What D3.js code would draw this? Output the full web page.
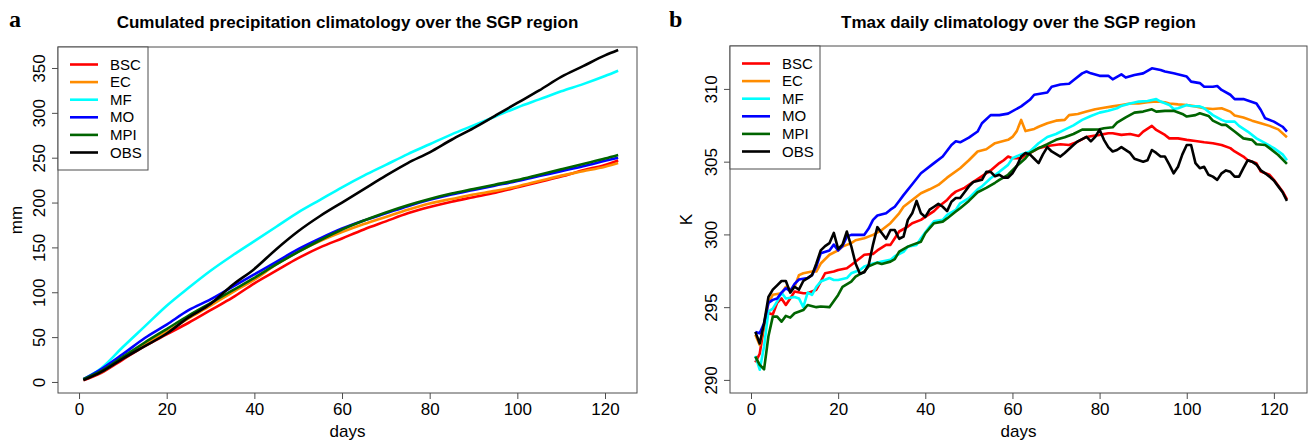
<!DOCTYPE html>
<html>
<head>
<meta charset="utf-8">
<script src="https://cdn.jsdelivr.net/npm/d3@7"></script>
<style>
  body { margin: 0; background: #fff; }
  svg { display: block; font-family: "Liberation Sans", Arial, sans-serif; }
</style>
</head>
<body>
<div class="svg-container"></div>
<script>
// series names and legend order
const seriesNames = ['BSC', 'EC', 'MF', 'MO', 'MPI', 'OBS'];
const seriesColors = ['#ff0000', '#ff8c00', '#00ffff', '#0000ff', '#006400', '#000000'];

// panel a: cumulated precipitation (mm), read every few days
const precipDays = [1, 5, 10, 15, 20, 25, 30, 35, 40, 45, 50, 55, 60, 65, 70, 75, 80, 85, 90, 95, 100, 105, 110, 115, 120, 123];
const precipBSC = [2, 10, 25, 40, 53, 66, 80, 94, 110, 124, 138, 150, 160, 170, 179, 188, 195, 201, 206, 211, 217, 223, 229, 236, 242, 247];
const precipEC  = [3, 11, 27, 42, 56, 71, 85, 100, 114, 131, 145, 157, 167, 176, 184, 192, 199, 204, 209, 213, 218, 224, 230, 235, 240, 244];
const precipMF  = [3, 15, 39, 62, 85, 105, 124, 141, 157, 173, 189, 203, 217, 230, 242, 254, 265, 276, 286, 296, 306, 315, 324, 332, 341, 347];
const precipMO  = [3, 14, 31, 49, 64, 80, 92, 106, 120, 134, 148, 160, 171, 180, 188, 196, 203, 209, 214, 219, 224, 229.5, 235, 240.5, 246.5, 250];
const precipMPI = [3, 12, 28, 44, 59, 74, 88, 102, 116, 131, 145, 158, 170, 180, 189, 197, 204, 210, 215, 220, 225, 231, 237, 243, 249, 253];
const precipOBS = [2, 11, 26, 40, 54, 72, 87, 108, 126, 148, 168, 185, 200, 215, 230, 244, 256, 270, 283, 297, 311, 325, 340, 352, 364, 370];

// panel b: Tmax daily climatology (K), [day, value]
const tmaxBSC = [[1,291.2],[2,291.8],[3,293.7],[4,294.6],[5,294.5],[6,295.3],[7,295.6],[8,295.15],[9,295.6],[10,296.07],[12,295.96],[13,295.96],[15,296.2],[16,296.76],[17,297.33],[19,297.45],[20,297.56],[22,297.67],[23,297.9],[25,298.36],[26,298.6],[28,298.66],[29,298.9],[31,299.28],[32,299.28],[33,299.74],[34,300.2],[36,300.54],[37,300.77],[39,301.0],[40,301.2],[42,301.6],[43,301.9],[45,302.37],[46,302.7],[47,302.94],[49,303.2],[50,303.4],[52,303.8],[55,304.4],[57,304.9],[58,305.1],[59,305.35],[60,305.24],[62,305.24],[63,305.46],[64,305.58],[66,305.93],[68,306.08],[71,306.2],[73,306.15],[75,306.38],[77,306.7],[80,306.84],[82,306.95],[83,306.95],[85,306.84],[87,306.9],[89,306.77],[90,307.07],[92,307.46],[93,307.18],[95,306.84],[96,306.6],[98,306.6],[100,306.5],[102,306.42],[104,306.33],[106,306.27],[108,306.15],[110,305.93],[111,305.7],[113,305.35],[114,305.1],[116,304.89],[117,304.32],[119,304.1],[120,303.75],[122,302.95],[123,302.4]];
const tmaxEC = [[1,293.1],[2,292.4],[3,293.7],[4,295.3],[5,295.85],[7,295.95],[8,296.4],[9,296.2],[10,296.4],[11,297.2],[12,297.33],[14,297.45],[15,297.45],[16,298.0],[18,298.6],[20,298.9],[21,299.16],[23,299.4],[24,299.6],[26,299.74],[28,299.97],[30,300.3],[32,300.77],[34,301.45],[35,301.9],[37,302.37],[39,302.83],[41,303.1],[43,303.4],[45,303.9],[48,304.55],[50,305.1],[52,305.7],[54,305.85],[56,306.27],[59,306.5],[60,306.7],[61,307.1],[62,307.87],[63,307.1],[65,307.25],[66,307.4],[68,307.64],[70,307.82],[72,307.87],[73,308.2],[75,308.28],[77,308.44],[79,308.6],[81,308.7],[83,308.8],[85,308.9],[87,309.0],[89,309.0],[91,309.08],[93,309.13],[95,309.08],[96,309.0],[98,308.94],[100,308.9],[102,308.8],[104,308.67],[106,308.62],[108,308.67],[110,308.44],[111,308.17],[113,308.03],[115,307.82],[117,307.64],[119,307.46],[121,307.22],[123,306.68]];
const tmaxMF = [[1,291.65],[2,290.7],[3,292.3],[4,294.7],[5,294.9],[6,295.4],[7,296.0],[8,295.6],[10,295.7],[11,295.6],[12,295.0],[13,296.0],[14,295.84],[15,296.4],[16,296.76],[18,297.0],[19,296.87],[20,296.87],[22,297.0],[23,297.33],[25,297.56],[26,297.8],[28,298.0],[30,298.13],[32,298.25],[33,298.5],[35,298.8],[36,299.16],[38,299.28],[39,299.74],[41,300.54],[42,300.9],[44,301.0],[45,301.34],[47,301.68],[48,302.14],[50,302.49],[52,303.1],[53,303.3],[55,303.86],[57,304.3],[59,304.78],[60,305.24],[62,305.5],[64,305.7],[66,306.27],[68,306.7],[70,306.9],[72,307.2],[74,307.5],[76,307.87],[78,308.14],[80,308.37],[82,308.5],[84,308.67],[85,308.83],[87,309.0],[89,309.13],[91,309.17],[93,309.3],[94,309.13],[96,308.9],[97,308.62],[98,308.67],[100,308.9],[101,308.83],[103,308.8],[104,308.67],[106,308.2],[108,307.87],[109,307.75],[111,307.75],[112,307.46],[114,307.07],[116,306.6],[118,306.27],[120,305.93],[122,305.5],[123,305.1]];
const tmaxMO = [[1,293.3],[2,293.2],[3,293.9],[4,295.3],[5,295.5],[6,295.6],[7,296.0],[8,296.3],[9,296.1],[10,296.6],[11,296.9],[13,297.0],[14,297.2],[15,297.8],[16,298.7],[18,298.9],[19,299.3],[20,298.9],[21,299.2],[22,299.85],[23,299.97],[26,299.97],[27,300.4],[28,301.0],[29,301.3],[31,301.45],[32,301.7],[33,301.9],[34,302.3],[35,302.7],[37,303.45],[39,304.2],[42,304.9],[44,305.35],[46,306.15],[47,306.4],[48,306.33],[50,306.65],[52,307.07],[53,307.64],[55,308.2],[57,308.2],[59,308.3],[62,308.8],[64,309.25],[65,309.6],[68,309.75],[69,310.15],[71,310.3],[73,310.35],[74,310.6],[76,311.07],[77,311.2],[78,311.07],[80,310.9],[82,310.9],[83,310.66],[85,311.0],[86,310.78],[88,310.96],[90,311.07],[92,311.42],[94,311.3],[95,311.2],[97,311.07],[100,310.85],[101,310.5],[103,310.4],[104,310.15],[106,310.15],[107,310.2],[108,309.93],[110,309.6],[111,309.3],[113,309.3],[114,309.2],[116,309.0],[117,308.55],[118,307.98],[120,307.75],[122,307.4],[123,307.07]];
const tmaxMPI = [[1,291.6],[2,291.03],[3,290.73],[4,293.0],[5,294.35],[6,294.35],[7,294.0],[8,294.4],[9,294.28],[10,294.58],[12,294.8],[13,295.15],[15,295.0],[16,295.04],[18,295.0],[20,295.84],[21,296.4],[23,296.76],[24,297.1],[26,297.45],[27,297.8],[29,298.06],[30,297.97],[32,298.13],[33,298.3],[34,298.82],[36,299.16],[37,299.28],[39,299.5],[40,300.08],[42,300.77],[44,300.88],[45,301.1],[47,301.57],[48,301.8],[50,302.3],[51,302.6],[52,302.9],[54,303.2],[56,303.55],[57,303.75],[59,304.1],[61,304.7],[63,305.24],[64,305.6],[66,305.93],[68,306.2],[70,306.5],[72,306.68],[74,306.9],[76,307.2],[78,307.2],[80,307.22],[81,307.3],[83,307.36],[84,307.69],[86,308.05],[88,308.37],[90,308.44],[92,308.6],[93,308.44],[95,308.49],[97,308.5],[99,308.28],[100,308.1],[102,308.2],[103,308.33],[105,308.14],[106,307.82],[108,307.53],[109,307.53],[111,307.07],[113,306.6],[115,306.5],[116,306.2],[118,306.15],[119,305.93],[121,305.46],[123,304.85]];
const tmaxOBS = [[1,293.3],[2,292.5],[3,293.9],[4,295.7],[5,296.2],[6,296.5],[7,296.8],[8,296.8],[9,296.0],[10,296.4],[11,296.2],[12,296.8],[13,297.0],[14,297.2],[15,298.0],[16,298.9],[17,299.2],[18,299.4],[19,300.1],[20,299.0],[21,299.3],[22,300.2],[23,299.2],[24,298.0],[25,297.3],[26,297.4],[27,297.9],[28,299.3],[29,300.5],[30,300.1],[31,299.7],[32,300.3],[33,300.3],[34,299.7],[35,299.85],[36,301.0],[37,301.45],[38,302.3],[39,301.45],[40,301.2],[41,301.7],[42,301.9],[43,302.1],[44,301.9],[45,301.6],[46,302.25],[47,302.5],[48,302.5],[49,302.9],[50,303.3],[51,303.6],[53,303.75],[54,304.3],[55,304.3],[56,304.0],[57,304.1],[58,303.9],[59,303.9],[60,304.2],[61,304.7],[62,305.35],[63,305.6],[64,305.5],[65,305.2],[66,304.9],[67,305.5],[68,306.0],[69,305.7],[71,305.35],[72,305.6],[74,306.15],[75,306.4],[77,306.7],[78,306.4],[79,306.7],[80,307.2],[81,306.5],[82,306.0],[83,305.7],[84,305.8],[85,306.0],[87,305.6],[88,305.2],[90,305.0],[91,305.1],[92,305.8],[93,305.6],[94,305.35],[95,305.35],[96,304.8],[97,304.2],[98,304.65],[99,305.5],[100,306.15],[101,306.15],[102,304.9],[103,304.55],[104,304.65],[105,304.1],[106,303.97],[107,303.75],[108,304.2],[109,304.4],[110,304.3],[111,303.97],[112,303.97],[113,304.55],[114,305.1],[115,305.0],[116,304.8],[117,304.4],[118,304.2],[119,303.97],[120,303.7],[121,303.3],[122,302.9],[123,302.3]];

// tick labels
const dayTicks = [0, 20, 40, 60, 80, 100, 120];
const precipTicks = [0, 50, 100, 150, 200, 250, 300, 350];
const tmaxTicks = [290, 295, 300, 305, 310];

//arrange data for each panel
const precipSeries = [precipBSC, precipEC, precipMF, precipMO, precipMPI, precipOBS]
    .map((vals, i) => ({ name: seriesNames[i], color: seriesColors[i], points: vals.map((v, j) => [precipDays[j], v]) }));
const tmaxSeries = [tmaxBSC, tmaxEC, tmaxMF, tmaxMO, tmaxMPI, tmaxOBS]
    .map((pts, i) => ({ name: seriesNames[i], color: seriesColors[i], points: pts }));

const width = 1309, height = 440;
const font = '"Liberation Sans", Arial, sans-serif';
const boxColor = '#4d4d4d';

const svg = d3.select('.svg-container')
    .append('svg')
    .attr('width', width)
    .attr('height', height);

function drawPanel(cfg) {
    const x = d3.scaleLinear().domain(cfg.xDomain).range([cfg.left, cfg.right]);
    const y = d3.scaleLinear().domain(cfg.yDomain).range([cfg.bottom, cfg.top]);
    const g = svg.append('g');

    //x-axis
    g.append('g')
        .attr('transform', `translate(0, ${cfg.bottom})`)
        .call(d3.axisBottom(x).tickValues(dayTicks).tickSize(6).tickSizeOuter(0))
        .call(a => a.select('.domain').remove())
        .call(a => a.selectAll('line').attr('stroke', boxColor))
        .call(a => a.selectAll('text')
            .attr('font-family', font).attr('font-size', 17).attr('fill', '#000')
            .attr('y', 10));

    //y-axis, labels rotated like R
    g.append('g')
        .attr('transform', `translate(${cfg.left}, 0)`)
        .call(d3.axisLeft(y).tickValues(cfg.yTicks).tickSize(6).tickSizeOuter(0))
        .call(a => a.select('.domain').remove())
        .call(a => a.selectAll('line').attr('stroke', boxColor))
        .call(a => a.selectAll('text')
            .attr('font-family', font).attr('font-size', 17).attr('fill', '#000')
            .attr('x', 0).attr('y', -13).attr('dy', 0)
            .attr('text-anchor', 'middle')
            .attr('transform', 'rotate(-90)'));

    //lines
    const line = d3.line()
        .x(d => x(d[0]))
        .y(d => y(d[1]))
        .curve(cfg.curve);

    g.selectAll('.series')
        .data(cfg.series)
        .join('path')
        .attr('class', 'series')
        .attr('d', d => line(d.points))
        .attr('fill', 'none')
        .attr('stroke', d => d.color)
        .attr('stroke-width', 2.6)
        .attr('stroke-linejoin', 'round');

    //plot box
    g.append('rect')
        .attr('x', cfg.left).attr('y', cfg.top)
        .attr('width', cfg.right - cfg.left).attr('height', cfg.bottom - cfg.top)
        .attr('fill', 'none').attr('stroke', boxColor).attr('stroke-width', 1);

    //legend
    const lg = g.append('g');
    lg.append('rect')
        .attr('x', cfg.left).attr('y', cfg.top)
        .attr('width', 90).attr('height', 123)
        .attr('fill', '#fff').attr('stroke', boxColor).attr('stroke-width', 1);
    const item = lg.selectAll('.item')
        .data(cfg.series)
        .join('g')
        .attr('class', 'item')
        .attr('transform', (d, i) => `translate(${cfg.left}, ${cfg.top + 17.5 + i * 17.6})`);
    item.append('line')
        .attr('x1', 12).attr('x2', 40)
        .attr('stroke', d => d.color).attr('stroke-width', 2.6);
    item.append('text')
        .attr('x', 52).attr('y', 5)
        .attr('font-family', font).attr('font-size', 15)
        .text(d => d.name);

    //title
    g.append('text')
        .attr('x', (cfg.left + cfg.right) / 2).attr('y', 28)
        .attr('text-anchor', 'middle')
        .attr('font-family', font).attr('font-size', 17).attr('font-weight', 'bold')
        .text(cfg.title);

    //panel letter
    g.append('text')
        .attr('x', cfg.letterX).attr('y', 27)
        .attr('font-family', '"Liberation Serif", "Times New Roman", serif')
        .attr('font-size', 24).attr('font-weight', 'bold')
        .text(cfg.letter);

    //axis labels
    g.append('text')
        .attr('x', (cfg.left + cfg.right) / 2).attr('y', 437)
        .attr('text-anchor', 'middle')
        .attr('font-family', font).attr('font-size', 17)
        .text('days');
    g.append('text')
        .attr('transform', `translate(${cfg.yLabelX}, ${(cfg.top + cfg.bottom) / 2}) rotate(-90)`)
        .attr('text-anchor', 'middle')
        .attr('font-family', font).attr('font-size', 17)
        .text(cfg.yLabel);
}

drawPanel({
    left: 58, right: 637, top: 47, bottom: 393,
    xDomain: [-4.8, 127.3], yDomain: [-12.3, 373.4],
    yTicks: precipTicks, series: precipSeries, curve: d3.curveMonotoneX,
    title: 'Cumulated precipitation climatology over the SGP region',
    letter: 'a', letterX: 9, yLabel: 'mm', yLabelX: 22
});

drawPanel({
    left: 730, right: 1307, top: 46, bottom: 393,
    xDomain: [-4.82, 127.6], yDomain: [289.1, 312.95],
    yTicks: tmaxTicks, series: tmaxSeries, curve: d3.curveLinear,
    title: 'Tmax daily climatology over the SGP region',
    letter: 'b', letterX: 669, yLabel: 'K', yLabelX: 692
});
</script>
</body>
</html>
